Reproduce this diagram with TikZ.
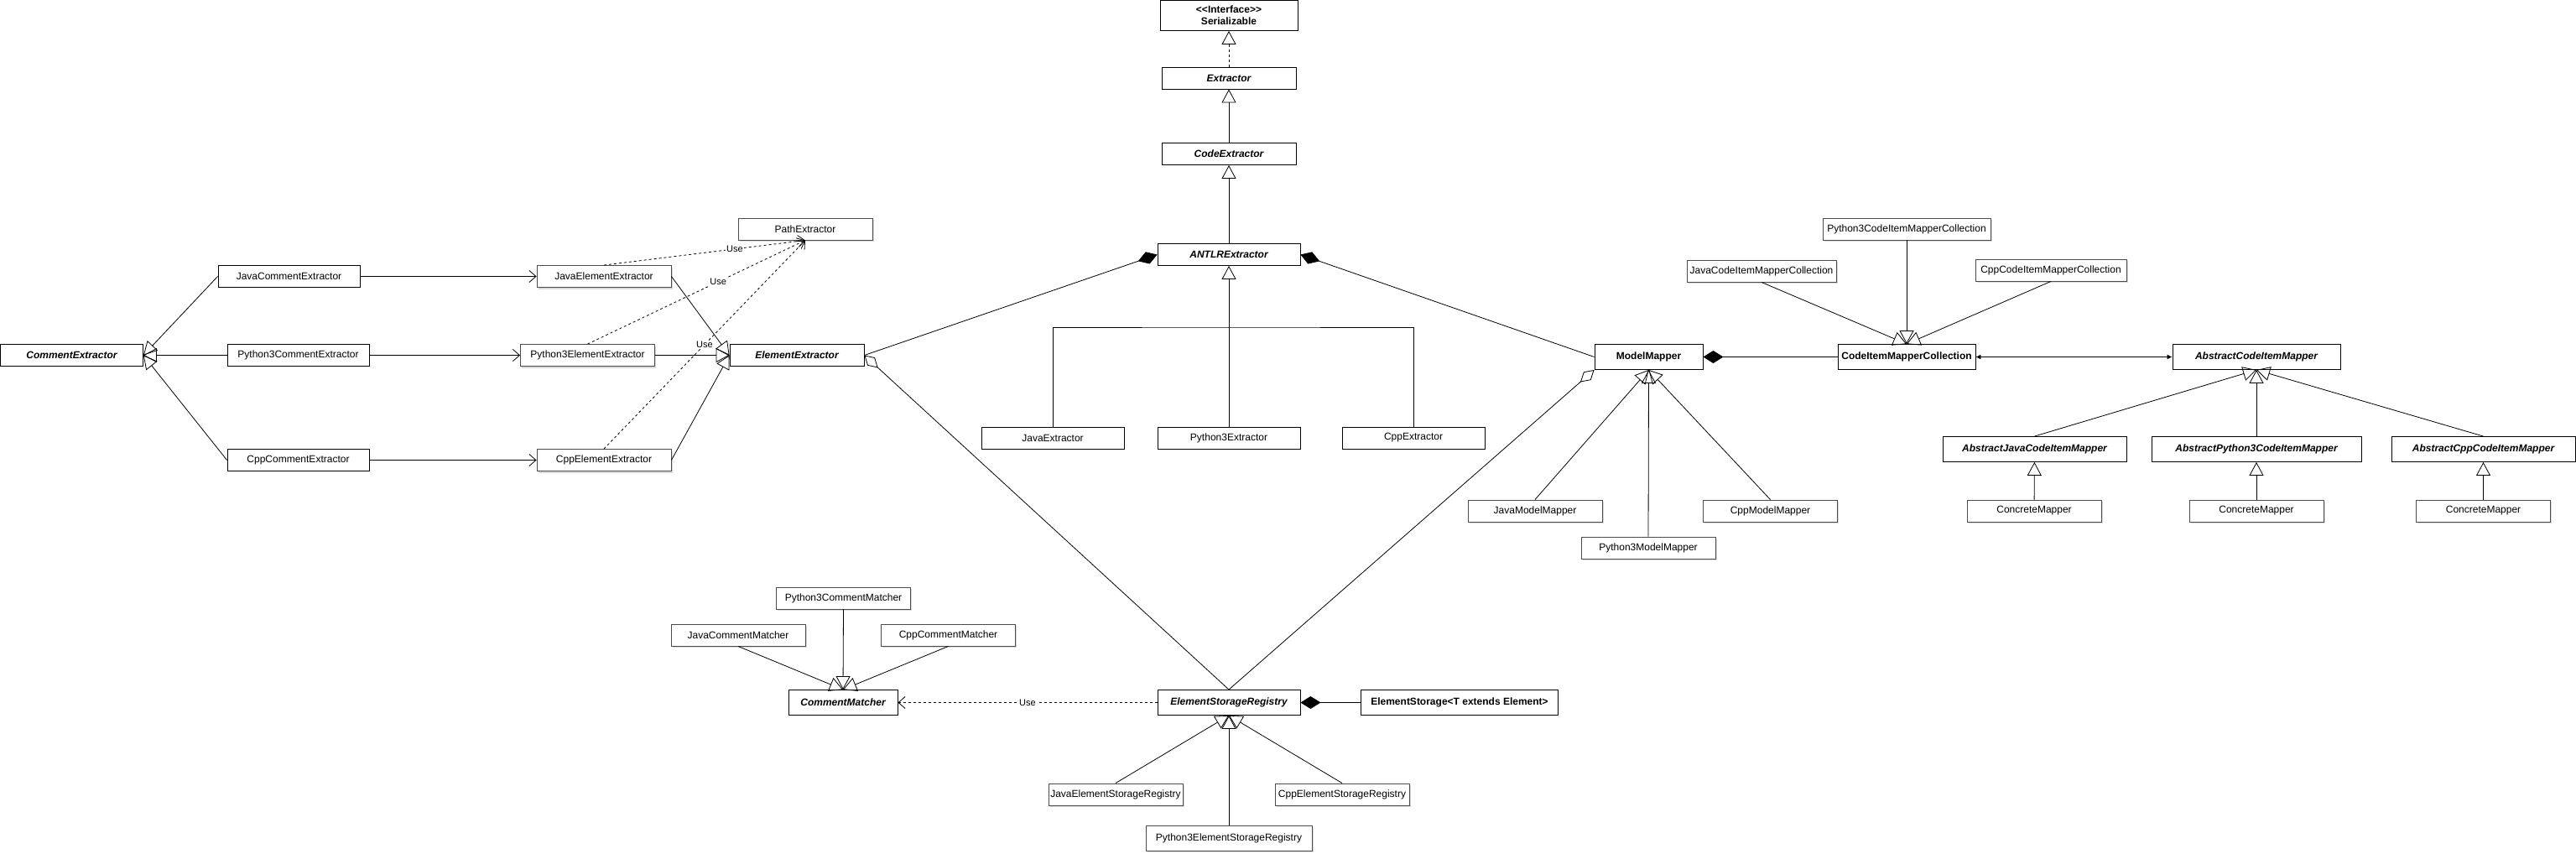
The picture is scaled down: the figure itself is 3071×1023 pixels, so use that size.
\documentclass[tikz,border=0pt]{standalone}
\usepackage{fontspec}
\setmainfont{Liberation Sans}
\usetikzlibrary{arrows.meta,shadows}

\begin{document}
\begin{tikzpicture}[x=1pt,y=-1pt,line width=0.8pt,
   every node/.style={font=\fontsize{12}{14}\selectfont},
   cls/.style={draw, fill=white, line width=0.9pt, minimum width=#1, minimum height=26pt, inner sep=0pt},
   tall/.style={minimum height=30pt},
   abscls/.style={font=\fontsize{12}{14}\selectfont\bfseries\itshape},
   boldcls/.style={font=\fontsize{12}{14}\selectfont\bfseries},
   shadowed/.style={draw=black!70, drop shadow={shadow xshift=1.5pt, shadow yshift=-2pt, opacity=0.3}},
   lbl/.style={fill=white, inner sep=1pt, font=\fontsize{11}{13}\selectfont},
   inh/.style={-{Triangle[open, length=16pt, width=17pt]}},
   realz/.style={inh, dash pattern=on 3pt off 3pt},
   navi/.style={-{Straight Barb[length=8pt, width=14pt]}},
   uses/.style={navi, dash pattern=on 3pt off 3pt},
   compo/.style={-{Diamond[length=24pt, width=15pt]}},
   aggr/.style={-{Diamond[open, length=22pt, width=13pt]}},
   bidir/.style={{Latex[length=6pt, width=6pt]}-{Latex[length=6pt, width=6pt]}}]
   \useasboundingbox (0,0) rectangle (3071,1023);

   \node[cls=170pt, abscls]              (ce)    at (  85.5, 423.5) {CommentExtractor};
   \node[cls=169pt]                      (jce)   at ( 344.5, 329.5) {JavaCommentExtractor};
   \node[cls=169pt]                      (pce)   at ( 355.5, 423.5) {Python3CommentExtractor};
   \node[cls=169pt]                      (cce)   at ( 355.5, 548.5) {CppCommentExtractor};
   \node[cls=160pt, shadowed]            (jee)   at ( 720  , 329.5) {JavaElementExtractor};
   \node[cls=160pt, shadowed]            (pee)   at ( 700.5, 423.5) {Python3ElementExtractor};
   \node[cls=160pt, shadowed]            (cee)   at ( 720  , 548.5) {CppElementExtractor};
   \node[cls=160pt, shadowed]            (pe)    at ( 960  , 273  ) {PathExtractor};
   \node[cls=160pt, abscls]              (ee)    at ( 950  , 423.5) {ElementExtractor};

   \node[cls=164pt, boldcls, minimum height=36pt, align=center]
                                         (ser)   at (1465  ,  18.5) {<\kern0pt<Interface>\kern0pt>\\Serializable};
   \node[cls=160pt, abscls]              (ext)   at (1465  ,  93  ) {Extractor};
   \node[cls=160pt, abscls]              (cex)   at (1465  , 183.5) {CodeExtractor};
   \node[cls=170pt, abscls]              (antlr) at (1465  , 303.5) {ANTLRExtractor};
   \node[cls=170pt]                      (jx)    at (1255  , 522  ) {JavaExtractor};
   \node[cls=170pt]                      (px)    at (1465  , 522  ) {Python3Extractor};
   \node[cls=170pt]                      (cx)    at (1685  , 522  ) {CppExtractor};
   \coordinate                           (bus)   at (1465  , 390  );

   \node[cls=129pt, tall, boldcls]       (mm)    at (1965.5, 425.5) {ModelMapper};
   \node[cls=160pt, shadowed]            (jmm)   at (1830  , 609  ) {JavaModelMapper};
   \node[cls=160pt, shadowed]            (pmm)   at (1965  , 653  ) {Python3ModelMapper};
   \node[cls=160pt, shadowed]            (cmm)   at (2110.5, 609  ) {CppModelMapper};
   \node[cls=164pt, tall, boldcls]       (cimc)  at (2273  , 425.5) {CodeItemMapperCollection};
   \node[cls=178pt, shadowed]            (jcimc) at (2100  , 323  ) {JavaCodeItemMapperCollection};
   \node[cls=200pt, shadowed]            (pcimc) at (2273  , 273  ) {Python3CodeItemMapperCollection};
   \node[cls=180pt, shadowed]            (ccimc) at (2445  , 322  ) {CppCodeItemMapperCollection};
   \node[cls=200pt, tall, abscls]        (acim)  at (2690  , 425.5) {AbstractCodeItemMapper};
   \node[cls=219pt, tall, abscls]        (ajcim) at (2425.5, 535.5) {AbstractJavaCodeItemMapper};
   \node[cls=250pt, tall, abscls]        (apcim) at (2690  , 535.5) {AbstractPython3CodeItemMapper};
   \node[cls=219pt, tall, abscls]        (accim) at (2960.5, 535.5) {AbstractCppCodeItemMapper};
   \node[cls=160pt, shadowed]            (jcm)   at (2425  , 609  ) {ConcreteMapper};
   \node[cls=160pt, shadowed]            (pcm)   at (2690  , 609  ) {ConcreteMapper};
   \node[cls=160pt, shadowed]            (ccm)   at (2960.5, 609  ) {ConcreteMapper};

   \node[cls=160pt, shadowed]            (pcmat) at (1005.5, 713  ) {Python3CommentMatcher};
   \node[cls=160pt, shadowed]            (jcmat) at ( 880  , 757  ) {JavaCommentMatcher};
   \node[cls=160pt, shadowed]            (ccmat) at (1130.5, 757  ) {CppCommentMatcher};
   \node[cls=130pt, tall, abscls]        (cmat)  at (1005  , 837.5) {CommentMatcher};
   \node[cls=170pt, tall, abscls]        (esr)   at (1465  , 837.5) {ElementStorageRegistry};
   \node[cls=235pt, tall, boldcls]       (es)    at (1740  , 837.5) {ElementStorage<T extends Element>};
   \node[cls=160pt, shadowed]            (jesr)  at (1330  , 947  ) {JavaElementStorageRegistry};
   \node[cls=160pt, shadowed]            (cesr)  at (1600  , 947  ) {CppElementStorageRegistry};
   \node[cls=198pt, tall, shadowed]      (pesr)  at (1465  , 999  ) {Python3ElementStorageRegistry};

   \draw[inh]   (jce.west)   -- (ce.east);
   \draw[inh]   (pce.west)   -- (ce.east);
   \draw[inh]   (cce.west)   -- (ce.east);
   \draw[navi]  (jce)        -- (jee);
   \draw[navi]  (pce)        -- (pee);
   \draw[navi]  (cce)        -- (cee);
   \draw[inh]   (jee.east)   -- (ee.west);
   \draw[inh]   (pee.east)   -- (ee.west);
   \draw[inh]   (cee.east)   -- (ee.west);
   \draw[uses]  (jee.north)  -- (pe.south) node[lbl, pos=.65]{Use};
   \draw[uses]  (pee.north)  -- (pe.south) node[lbl, pos=.6]{Use};
   \draw[uses]  (cee.north)  -- (pe.south) node[lbl, pos=.5]{Use};

   \draw[realz] (ext)        -- (ser);
   \draw[inh]   (cex)        -- (ext);
   \draw[inh]   (antlr)      -- (cex);
   \draw[inh]   (px)         -- (antlr);
   \draw        (jx.north)   |- (bus) -| (cx.north);
   \draw[compo] (ee.east)    -- (antlr.west);
   \draw[compo] (mm.west)    -- (antlr.east);
   \draw[aggr]  (esr.north)  -- (ee.east);
   \draw[aggr]  (esr.north)  -- (mm.south west);

   \draw[inh]   (jmm.north)  -- (mm.south);
   \draw[inh]   (pmm.north)  -- (mm.south);
   \draw[inh]   (cmm.north)  -- (mm.south);
   \draw[compo] (cimc)       -- (mm);
   \draw[bidir] (cimc)       -- (acim);
   \draw[inh]   (jcimc.south) -- (cimc.north);
   \draw[inh]   (pcimc.south) -- (cimc.north);
   \draw[inh]   (ccimc.south) -- (cimc.north);
   \draw[inh]   (ajcim.north) -- (acim.south);
   \draw[inh]   (apcim.north) -- (acim.south);
   \draw[inh]   (accim.north) -- (acim.south);
   \draw[inh]   (jcm)        -- (ajcim);
   \draw[inh]   (pcm)        -- (apcim);
   \draw[inh]   (ccm)        -- (accim);

   \draw[inh]   (jcmat.south) -- (cmat.north);
   \draw[inh]   (pcmat.south) -- (cmat.north);
   \draw[inh]   (ccmat.south) -- (cmat.north);
   \draw[uses]  (esr)        -- (cmat) node[lbl, midway]{Use};
   \draw[compo] (es)         -- (esr);
   \draw[inh]   (jesr.north) -- (esr.south);
   \draw[inh]   (pesr.north) -- (esr.south);
   \draw[inh]   (cesr.north) -- (esr.south);
\end{tikzpicture}
\end{document}
